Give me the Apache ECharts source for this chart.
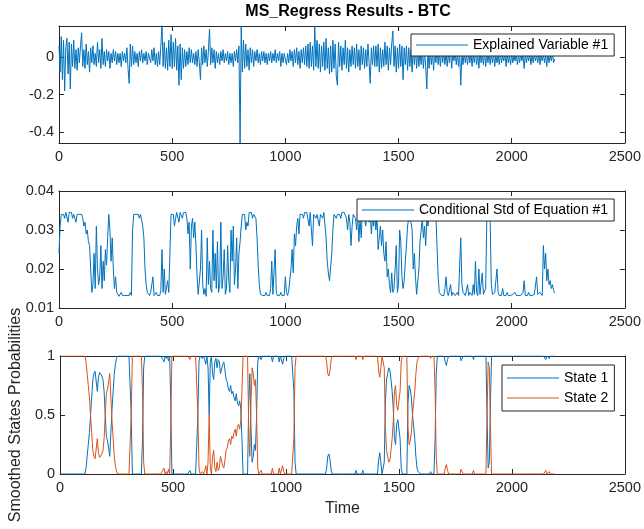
<!DOCTYPE html>
<html><head><meta charset="utf-8">
<script src="https://cdn.jsdelivr.net/npm/echarts@6/dist/echarts.min.js"></script>
<style>html,body{margin:0;padding:0;background:#fff}#c{width:644px;height:529px}</style>
</head><body><div id="c"></div>
<script>
const STEP = 5;
const xTickValues = [0,500,1000,1500,2000,2500];
const retTicks = [-0.4,-0.2,0];
const stdTicks = [0.01,0.02,0.03,0.04];
const probTicks = [0,0.5,1];

const explained = [
.06,-.08,.11,-.12,.09,-.18,.05,.10,-.09,.08,-.17,.07,-.05,.09,-.06,.04,-.07,.05,-.03,.06,
.13,-.05,.04,-.06,.07,-.04,.03,-.08,.05,-.03,.06,-.04,.02,-.05,.08,-.03,.04,-.06,.10,-.04,
.03,-.05,.04,-.02,.03,-.06,.02,-.03,.04,-.02,.03,-.04,.02,-.03,.02,-.05,.03,-.02,.02,-.03,
.05,-.06,-.14,.07,-.05,.06,-.04,.03,-.03,.02,-.05,.03,-.02,.04,-.03,.02,-.02,.03,-.04,.02,
.03,-.03,.04,-.02,.05,-.04,.02,-.05,.03,-.04,.06,.17,-.05,.08,-.06,.05,-.07,.09,-.05,.12,
-.06,.08,-.05,.10,-.07,.06,-.15,.07,-.12,.05,-.06,.04,-.05,.03,-.04,.05,-.03,.04,-.03,.02,
-.04,.03,-.05,.04,-.03,-.12,.05,-.04,.06,-.03,.04,-.05,.03,.15,-.04,.05,-.03,.04,-.06,.03,
-.03,.02,-.04,.03,-.02,.04,-.03,.02,-.02,.03,-.04,.02,-.03,.02,-.05,.03,-.02,.04,-.03,.06,
-.458,.166,-.08,.09,-.06,.07,-.05,.04,-.07,.05,-.03,.04,-.05,.03,-.02,.04,-.03,.02,-.04,.03,
-.02,.03,-.03,.02,-.04,.02,-.02,.03,-.03,.02,-.02,.04,-.03,.02,-.02,.03,-.05,.02,-.03,.02,
.03,-.04,.02,-.03,.04,-.02,.03,-.05,.04,-.03,.05,-.04,.03,-.06,.04,-.03,.05,-.04,.06,-.05,
.07,-.06,.08,-.05,.06,-.07,.166,-.05,.09,-.06,.07,-.08,.06,-.05,.08,-.07,.10,-.06,.05,-.09,
.06,-.08,.09,-.06,.07,-.10,-.15,.08,-.05,.06,-.07,.05,-.04,.09,-.06,.05,-.08,.04,-.05,.06,
-.04,.05,-.06,.07,-.05,.04,-.07,.06,-.04,.05,-.06,.04,-.05,.07,-.03,-.14,.05,-.04,.06,-.05,
.06,-.05,.07,-.08,.05,-.06,.04,-.05,.08,-.04,.06,-.07,.05,-.04,.07,.14,-.05,.06,-.08,.05,
-.06,.07,-.05,.06,-.12,.05,-.04,.06,-.07,.05,-.05,.04,-.08,.06,-.04,.05,-.06,.04,-.05,.03,
-.04,.05,-.06,.04,-.05,-.17,.04,-.06,.05,-.04,.03,-.07,.04,-.03,.05,-.04,.03,-.05,.04,-.03,
.03,-.04,.03,-.05,.02,-.03,.04,-.06,.03,-.02,.03,-.04,.02,-.05,.03,-.15,.02,-.04,.03,-.03,
.02,-.04,.03,-.03,.02,-.05,.02,-.03,.03,-.04,.02,-.06,.03,-.03,.02,-.04,.03,-.05,.02,-.03,
.02,-.04,.02,-.03,.02,-.05,.01,-.03,.02,-.04,.02,-.03,.01,-.02,.02,-.05,.02,-.03,.01,-.04,
.02,-.03,.01,-.02,.02,-.04,.01,-.03,.02,-.02,.01,-.06,.02,-.03,.01,-.02,.02,-.04,.01,-.03,
.02,-.02,.01,-.03,.02,-.04,.01,-.02,.02,-.03,.01,-.05,.02,-.03,.01,-.02,.02,-.03,-.01
];

const condStd = [
.024,.031,.034,.0345,.034,.033,.0345,.034,.032,.0345,.034,.0345,.033,.034,.0345,.032,.034,.0345,.034,.0335,
.034,.033,.031,.032,.029,.030,.027,.026,.020,.014,.016,.024,.015,.031,.020,.016,.018,.026,.015,.022,
.017,.025,.021,.028,.034,.030,.022,.028,.020,.015,.018,.014,.0135,.013,.0132,.014,.0132,.0135,.0132,.0132,
.0132,.0135,.0132,.014,.0132,.030,.034,.0345,.034,.0345,.034,.033,.034,.0345,.031,.028,.020,.016,.014,.0135,
.0132,.014,.0135,.018,.0132,.0135,.014,.0132,.0135,.0132,.0145,.025,.014,.020,.0135,.0132,.017,.014,.0135,.034,
.0345,.034,.031,.033,.0345,.034,.032,.0345,.034,.033,.0345,.034,.0345,.033,.029,.032,.020,.031,.033,.028,
.032,.026,.018,.0135,.014,.020,.030,.016,.0135,.015,.013,.028,.016,.022,.015,.014,.030,.017,.024,.015,
.027,.014,.016,.032,.015,.018,.025,.0135,.015,.026,.017,.014,.030,.022,.031,.016,.020,.028,.015,.024,
.027,.031,.034,.0345,.034,.030,.032,.031,.0345,.034,.0345,.033,.034,.0345,.033,.028,.021,.016,.0135,.0132,
.0132,.0135,.0132,.014,.0132,.0135,.0132,.015,.022,.0135,.0132,.025,.014,.0132,.0135,.0132,.014,.0132,.0135,.0132,
.018,.014,.0132,.0145,.015,.020,.025,.019,.029,.026,.031,.033,.029,.034,.0345,.034,.033,.0345,.034,.0345,
.034,.031,.0345,.030,.026,.034,.0345,.033,.034,.0345,.031,.034,.0345,.033,.0345,.034,.028,.022,.019,.017,
.017,.024,.030,.034,.0345,.033,.034,.0345,.034,.033,.0345,.034,.0345,.034,.033,.030,.034,.032,.026,.031,
.034,.0345,.033,.030,.034,.027,.033,.028,.034,.0345,.033,.031,.034,.033,.032,.0345,.029,.033,.031,.034,
.030,.033,.025,.028,.031,.026,.030,.024,.022,.027,.018,.020,.016,.014,.019,.014,.015,.020,.026,.014,
.016,.030,.027,.018,.015,.017,.022,.026,.031,.033,.034,.032,.030,.020,.024,.018,.0135,.014,.020,.027,
.030,.033,.028,.031,.026,.033,.031,.034,.0345,.033,.034,.0345,.033,.034,.026,.018,.014,.0135,.0132,.0135,
.0132,.015,.018,.014,.0132,.0135,.016,.0132,.014,.0135,.0132,.0135,.014,.0132,.0135,.028,.016,.014,.0135,.0132,
.0135,.016,.0132,.014,.0135,.0132,.016,.0135,.022,.014,.0132,.020,.0135,.014,.019,.0135,.0132,.015,.033,.034,
.0345,.032,.016,.0135,.0132,.014,.0135,.020,.014,.0132,.0135,.0132,.015,.0132,.0135,.0132,.014,.0132,.0135,.0132,
.0132,.0135,.0132,.014,.0132,.0135,.0132,.0135,.0132,.0135,.014,.017,.0132,.0135,.0132,.014,.0132,.0135,.0132,.0135,
.0135,.014,.018,.0135,.0132,.014,.0135,.0132,.026,.020,.024,.017,.020,.016,.017,.015,.016,.0145,.0138
];

const state1 = [
0,0,0,0,0,0,0,0,0,0,0,0,0,0,0,0,0,0,0,0,
0,0,0,.05,.15,.25,.35,.5,.65,.8,.85,.87,.86,.7,.82,.86,.87,.83,.8,.7,
.5,.32,.28,.22,.15,.35,.55,.7,.85,.93,.98,1,1,1,1,1,1,1,1,1,
1,1,1,.5,0,0,0,0,0,0,0,0,0,.3,.9,1,1,1,1,1,
1,1,1,1,1,1,1,1,1,1,1,.97,.95,1,.98,1,.96,1,.6,0,
0,0,0,0,0,0,0,0,0,0,0,0,0,0,0,.03,0,0,0,0,
0,0,.5,.95,1,1,.98,1,.97,.93,1,.9,.5,.95,1,.85,.8,.95,.98,.9,
.97,.95,.85,.85,.93,.95,.88,.8,.78,.72,.7,.75,.68,.7,.65,.62,.68,.6,.58,.62,
.55,.3,0,0,0,0,0,.6,.85,.4,.1,.15,.25,.2,.5,.95,1,1,.97,1,
1,1,1,1,1,1,1,1,.95,1,1,1,1,1,.95,1,1,.93,.98,1,
1,1,1,1,1,1,1,.7,.1,0,0,0,0,0,0,0,0,0,0,0,
0,0,0,0,0,0,0,0,0,0,0,0,0,0,0,0,.05,.15,.17,.12,
.03,0,0,0,0,0,0,0,0,0,0,0,0,0,0,0,0,0,0,0,
0,0,.03,0,0,0,0,0,.03,0,0,0,0,0,0,0,0,0,0,0,
0,0,.12,.18,.1,0,0,.1,.6,.8,.85,.9,.88,.8,.7,.55,.3,.25,.42,.46,
.45,.3,.05,0,0,0,0,0,.6,.75,.72,.65,.5,.4,.3,.15,.05,.02,.03,0,
0,0,0,0,0,0,0,0,.02,0,0,0,.3,.85,1,1,1,1,1,1,
1,.95,.92,.97,1,1,1,1,1,1,1,1,1,1,1,.96,.95,1,1,1,
1,1,1,1,1,1,.97,1,1,1,1,1,1,1,1,1,1,1,.5,.05,
.1,.6,1,1,1,1,1,1,1,1,1,1,1,1,1,1,1,1,1,1,
1,1,1,1,1,1,1,1,1,1,1,1,1,1,1,1,1,1,1,1,
1,1,1,1,1,1,1,1,1,1,.97,1,1,.98,1,1,1,1,1
];

const state2 = [
1,1,1,1,1,1,1,1,1,1,1,1,1,1,1,1,1,1,1,1,
1,1,1,.95,.85,.75,.65,.5,.35,.2,.15,.13,.14,.3,.18,.14,.13,.17,.2,.3,
.5,.68,.72,.78,.85,.65,.45,.3,.15,.07,.02,0,0,0,0,0,0,0,0,0,
0,0,0,.5,1,1,1,1,1,1,1,1,1,.7,.1,0,0,0,0,0,
0,0,0,0,0,0,0,0,0,0,0,.03,.05,0,.02,0,.04,0,.4,1,
1,1,1,1,1,1,1,1,1,1,1,1,1,1,1,.97,1,1,1,1,
1,1,.5,.05,0,0,.02,0,.03,.07,0,.1,.5,.05,0,.15,.2,.05,.02,.1,
.03,.05,.15,.15,.07,.05,.12,.2,.22,.28,.3,.25,.32,.3,.35,.38,.32,.4,.42,.38,
.45,.7,1,1,1,1,1,.4,.15,.6,.9,.85,.75,.8,.5,.05,0,0,.03,0,
0,0,0,0,0,0,0,0,.05,0,0,0,0,0,.05,0,0,.07,.02,0,
0,0,0,0,0,0,0,.3,.9,1,1,1,1,1,1,1,1,1,1,1,
1,1,1,1,1,1,1,1,1,1,1,1,1,1,1,1,.95,.85,.83,.88,
.97,1,1,1,1,1,1,1,1,1,1,1,1,1,1,1,1,1,1,1,
1,1,.97,1,1,1,1,1,.97,1,1,1,1,1,1,1,1,1,1,1,
1,1,.88,.82,.9,1,1,.9,.4,.2,.15,.1,.12,.2,.3,.45,.7,.75,.58,.54,
.55,.7,.95,1,1,1,1,1,.4,.25,.28,.35,.5,.6,.7,.85,.95,.98,.97,1,
1,1,1,1,1,1,1,1,.98,1,1,1,.7,.15,0,0,0,0,0,0,
0,.05,.08,.03,0,0,0,0,0,0,0,0,0,0,0,.04,.05,0,0,0,
0,0,0,0,0,0,.03,0,0,0,0,0,0,0,0,0,0,0,.5,.95,
.9,.4,0,0,0,0,0,0,0,0,0,0,0,0,0,0,0,0,0,0,
0,0,0,0,0,0,0,0,0,0,0,0,0,0,0,0,0,0,0,0,
0,0,0,0,0,0,0,0,0,0,.03,0,0,.02,0,0,0,0,0
];

const BLUE = '#0072BD', ORANGE = '#D95319', AX = '#262626';
const FONT = '"Liberation Sans", Arial, Helvetica, sans-serif';
const TICK_FS = 14.5;
const pairs = arr => arr.map((v, i) => [i * STEP, v]);

const grids = [
  {left: 59, right: 17, top: 26, height: 117},
  {left: 59, right: 17, top: 191, height: 117},
  {left: 59, right: 17, top: 356, height: 118}
];

function xAxisFor(gi, position, withLabels, extra) {
  return Object.assign({
    type: 'value', gridIndex: gi, position: position,
    min: xTickValues[0], max: xTickValues[xTickValues.length - 1], interval: 500,
    axisLine: {show: true, onZero: false, lineStyle: {color: AX, width: 1}},
    axisTick: {show: true, inside: true, length: 5, lineStyle: {color: AX}},
    axisLabel: {show: withLabels, color: AX, fontFamily: FONT, fontSize: TICK_FS, margin: 6,
                formatter: v => String(v)},
    splitLine: {show: false}
  }, extra || {});
}
function yAxisFor(gi, position, withLabels, lim, extra) {
  const o = {
    type: 'value', gridIndex: gi, position: position, min: lim.min, max: lim.max,
    axisLine: {show: true, onZero: false, lineStyle: {color: AX, width: 1}},
    axisTick: {show: true, inside: true, length: 5, lineStyle: {color: AX}},
    axisLabel: {show: withLabels, color: AX, fontFamily: FONT, fontSize: TICK_FS, margin: 5,
                formatter: lim.fmt},
    splitLine: {show: false}
  };
  if (lim.interval) o.interval = lim.interval;
  if (lim.custom) { o.axisTick.customValues = lim.custom; o.axisLabel.customValues = lim.custom; }
  return Object.assign(o, extra || {});
}

const lims = [
  {min: -0.458, max: 0.166, custom: retTicks, fmt: v => (Math.abs(v) < 1e-9 ? '0' : String(+v.toFixed(1)))},
  {min: stdTicks[0], max: stdTicks[3], interval: 0.01, fmt: v => v.toFixed(2)},
  {min: probTicks[0], max: probTicks[2], interval: 0.5, fmt: v => String(v)}
];

const xAxes = [], yAxes = [];
for (let g = 0; g < 3; g++) {
  const extra = g === 2 ? {name: 'Time', nameLocation: 'middle', nameGap: 27,
    nameTextStyle: {color: AX, fontFamily: FONT, fontSize: 16}} : null;
  xAxes.push(xAxisFor(g, 'bottom', true, extra));
  xAxes.push(xAxisFor(g, 'top', false));
  const yextra = g === 2 ? {name: 'Smoothed States Probabilities', nameLocation: 'middle', nameGap: 34,
    nameTextStyle: {color: AX, fontFamily: FONT, fontSize: 16}} : null;
  yAxes.push(yAxisFor(g, 'left', true, lims[g], yextra));
  yAxes.push(yAxisFor(g, 'right', false, lims[g]));
}

function lineSeries(name, data, color, gi) {
  return {
    name: name, type: 'line', xAxisIndex: gi * 2, yAxisIndex: gi * 2, data: pairs(data),
    showSymbol: false, symbol: 'none', smooth: false, sampling: null,
    lineStyle: {color: color, width: 1}, itemStyle: {color: color}, clip: true
  };
}

const legendBase = {
  icon: 'rect', itemWidth: 52, itemHeight: 1.2, backgroundColor: '#fff',
  borderColor: AX, borderWidth: 1, borderRadius: 0,
  textStyle: {color: '#000', fontFamily: FONT, fontSize: 14, lineHeight: 14}, selectedMode: false
};

const chart = echarts.init(document.getElementById('c'));
chart.setOption({
  animation: false,
  backgroundColor: '#fff',
  title: {text: 'MS_Regress Results - BTC', left: 343, textAlign: 'center', top: -1,
    textStyle: {color: '#000', fontFamily: FONT, fontSize: 16, fontWeight: 'bold'}},
  grid: grids,
  xAxis: xAxes,
  yAxis: yAxes,
  legend: [
    Object.assign({}, legendBase, {data: ['Explained Variable #1'], left: 411, top: 34, padding: [4, 6, 4, 5]}),
    Object.assign({}, legendBase, {data: ['Conditional Std of Equation #1'], left: 357, top: 199, padding: [4, 6, 4, 5]}),
    Object.assign({}, legendBase, {data: ['State 1', 'State 2'], orient: 'vertical', left: 502, top: 365,
      itemGap: 6, padding: [6, 6, 6, 5]})
  ],
  series: [
    lineSeries('Explained Variable #1', explained, BLUE, 0),
    lineSeries('Conditional Std of Equation #1', condStd, BLUE, 1),
    lineSeries('State 1', state1, BLUE, 2),
    lineSeries('State 2', state2, ORANGE, 2)
  ]
});
</script>
</body></html>
